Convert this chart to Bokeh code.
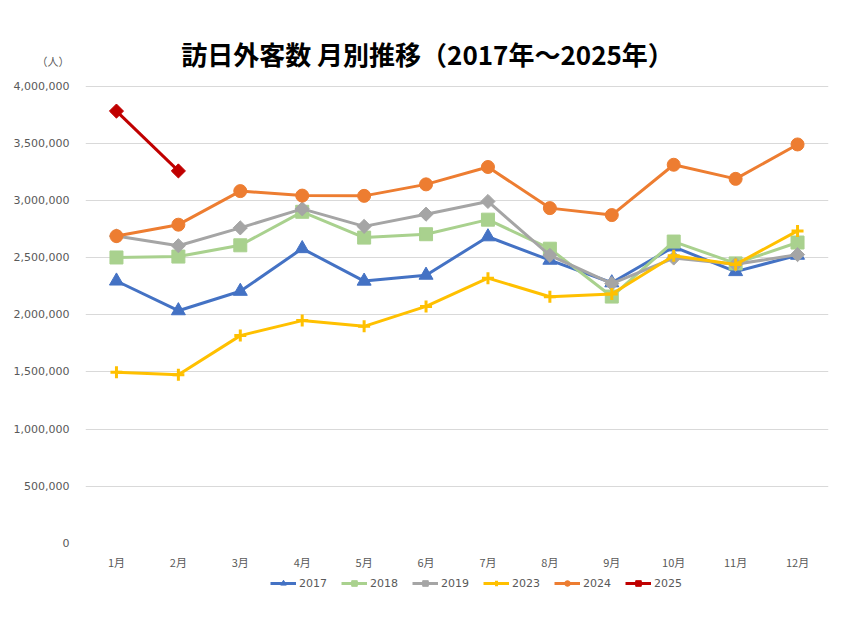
import math
from bokeh.plotting import figure
from bokeh.layouts import column
from bokeh.models import FactorRange, Range1d, NumeralTickFormatter, Legend, LegendItem, Label, FixedTicker
from bokeh.embed import file_html
from bokeh.resources import INLINE

months = ["1月", "2月", "3月", "4月", "5月", "6月", "7月", "8月", "9月", "10月", "11月", "12月"]
v2017 = [2295668, 2035843, 2205731, 2578970, 2294700, 2346430, 2682477, 2477487, 2280230, 2593795, 2378013, 2521210]
v2018 = [2501409, 2509297, 2607956, 2900718, 2675052, 2704631, 2832040, 2578021, 2159595, 2640610, 2449389, 2632109]
v2019 = [2689339, 2604322, 2760136, 2926685, 2773091, 2880041, 2991189, 2520134, 2272883, 2496568, 2441274, 2526387]
v2023 = [1497472, 1475455, 1817919, 1949236, 1898880, 2073308, 2320658, 2157814, 2182232, 2516623, 2440722, 2733585]
v2024 = [2688455, 2788213, 3081781, 3042476, 3040159, 3140675, 3292602, 2932949, 2872198, 3312193, 3188777, 3489800]
v2025 = [3781629, 3258100]
y_ticks = [0, 500000, 1000000, 1500000, 2000000, 2500000, 3000000, 3500000, 4000000]
unit_tick = 4210000

title_text = "訪日外客数 月別推移（2017年～2025年）"
unit_text = "（人）"

series = [
    ("2017", v2017, "#4472C4", "triangle", 14, 0),
    ("2018", v2018, "#A9D18E", "square", 13, 0),
    ("2019", v2019, "#A5A5A5", "square", 10, math.pi / 4),
    ("2023", v2023, "#FFC000", "cross", 12, 0),
    ("2024", v2024, "#ED7D31", "circle", 13, 0),
    ("2025", v2025, "#C00000", "square", 10, math.pi / 4),
]

p = figure(width=853, height=572, x_range=FactorRange(*months), y_range=Range1d(0, 4600000),
           output_backend="svg", toolbar_location=None,
           min_border_left=85, min_border_right=25, min_border_top=17, min_border_bottom=29)
p.outline_line_color = None
p.xgrid.grid_line_color = None
p.ygrid.grid_line_color = "#D9D9D9"
p.ygrid.grid_line_width = 1
p.ygrid.ticker = FixedTicker(ticks=y_ticks)
p.yaxis.ticker = FixedTicker(ticks=y_ticks + [unit_tick])
p.yaxis.formatter = NumeralTickFormatter(format="0,0")
p.yaxis.major_label_overrides = {unit_tick: unit_text}
for ax in (p.xaxis[0], p.yaxis[0]):
    ax.axis_line_color = None
    ax.major_tick_line_color = None
    ax.minor_tick_line_color = None
    ax.major_label_text_color = "#595959"
    ax.major_label_text_font_size = "11px"
p.yaxis.major_label_text_font = "DejaVu Sans, Noto Sans CJK JP"
p.xaxis.major_label_text_font = "Noto Sans CJK JP"
p.yaxis.major_label_standoff = 10
p.xaxis.major_label_standoff = 4

# legend holder figure (its copies of the series lie outside its visible range)
p2 = figure(width=853, height=46, x_range=FactorRange(*months), y_range=Range1d(0, 1),
            output_backend="svg", toolbar_location=None,
            x_axis_location=None, y_axis_location=None, min_border=0)
p2.outline_line_color = None
p2.grid.visible = False

items = []
for name, vals, color, marker, size, ang in series:
    xs = months[:len(vals)]
    p.line(xs, vals, line_color=color, line_width=3)
    ln = p2.line(xs, vals, line_color=color, line_width=3)
    if marker == "cross":
        p.scatter(xs, vals, marker=marker, size=size, line_color=color, line_width=3)
        sc = p2.scatter(xs, vals, marker=marker, size=size, line_color=color, line_width=3)
    else:
        p.scatter(xs, vals, marker=marker, size=size, angle=ang, fill_color=color, line_color=color)
        sc = p2.scatter(xs, vals, marker=marker, size=size, angle=ang, fill_color=color, line_color=color)
    items.append(LegendItem(label=name, renderers=[ln, sc]))

legend = Legend(items=items, orientation="horizontal", location=(185, 28), margin=0,
                label_text_font="DejaVu Sans", label_text_font_size="11px",
                label_text_color="#595959", glyph_width=26, glyph_height=14,
                label_standoff=3, spacing=14, padding=2, border_line_color=None,
                background_fill_alpha=0)
p2.add_layout(legend, "center")

p.add_layout(Label(x=342, y=490, x_units="screen", y_units="screen", text=title_text,
                   text_font="Noto Sans CJK JP", text_font_style="bold", text_font_size="26px",
                   text_align="center", text_baseline="middle", text_color="#000000"))

layout = column(p, p2, spacing=0)
open("out.html", "w").write(file_html(layout, INLINE))
